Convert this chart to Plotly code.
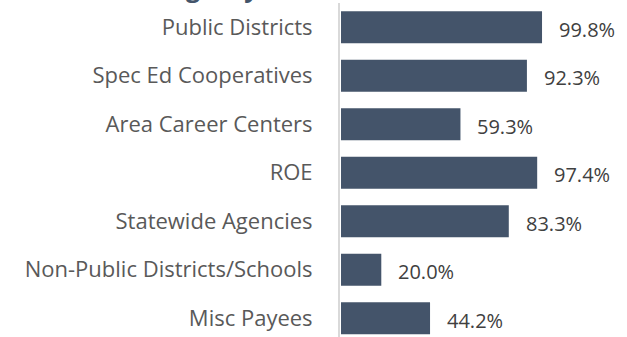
import plotly.graph_objects as go

categories = [
    "Public Districts",
    "Spec Ed Cooperatives",
    "Area Career Centers",
    "ROE",
    "Statewide Agencies",
    "Non-Public Districts/Schools",
    "Misc Payees",
]
values = [99.8, 92.3, 59.3, 97.4, 83.3, 20.0, 44.2]
value_labels = [f"{v:.1f}%" for v in values]
title_text = "Educational Agency"

W, H = 627, 337
bar_color = "#44546A"
font_family = "Open Sans, Segoe UI, sans-serif"

fig = go.Figure(
    go.Bar(
        x=values,
        y=categories,
        orientation="h",
        marker=dict(color=bar_color, line=dict(width=0)),
        width=0.66,
        hoverinfo="skip",
    )
)

for cat, v, lab in zip(categories, values, value_labels):
    fig.add_annotation(
        x=v, y=cat, xref="x", yref="y",
        text=lab, showarrow=False,
        xanchor="left", yanchor="middle",
        xshift=15, yshift=-2,
        font=dict(family=font_family, size=20, color="#404040"),
    )

# Chart title, sitting above the top edge of the page
fig.add_annotation(
    x=0, y=1, xref="paper", yref="paper",
    text=f"<b>{title_text}</b>", showarrow=False,
    xanchor="left", yanchor="bottom",
    xshift=13 - 340, yshift=-3,
    font=dict(family=font_family, size=25, color=bar_color),
)

fig.update_layout(
    width=W, height=H,
    margin=dict(l=340, r=4, t=3, b=0),
    paper_bgcolor="white",
    plot_bgcolor="white",
    showlegend=False,
    xaxis=dict(
        range=[-0.5, 140],
        visible=False,
        fixedrange=True,
    ),
    yaxis=dict(
        categoryorder="array",
        categoryarray=categories,
        range=[6.387, -0.5],
        showline=True,
        linecolor="#D9D9D9",
        linewidth=2,
        showgrid=False,
        zeroline=False,
        ticks="",
        ticklabelstandoff=21,
        tickfont=dict(family=font_family, size=22, color="#595959"),
        fixedrange=True,
    ),
)

fig.write_html("out.html")
